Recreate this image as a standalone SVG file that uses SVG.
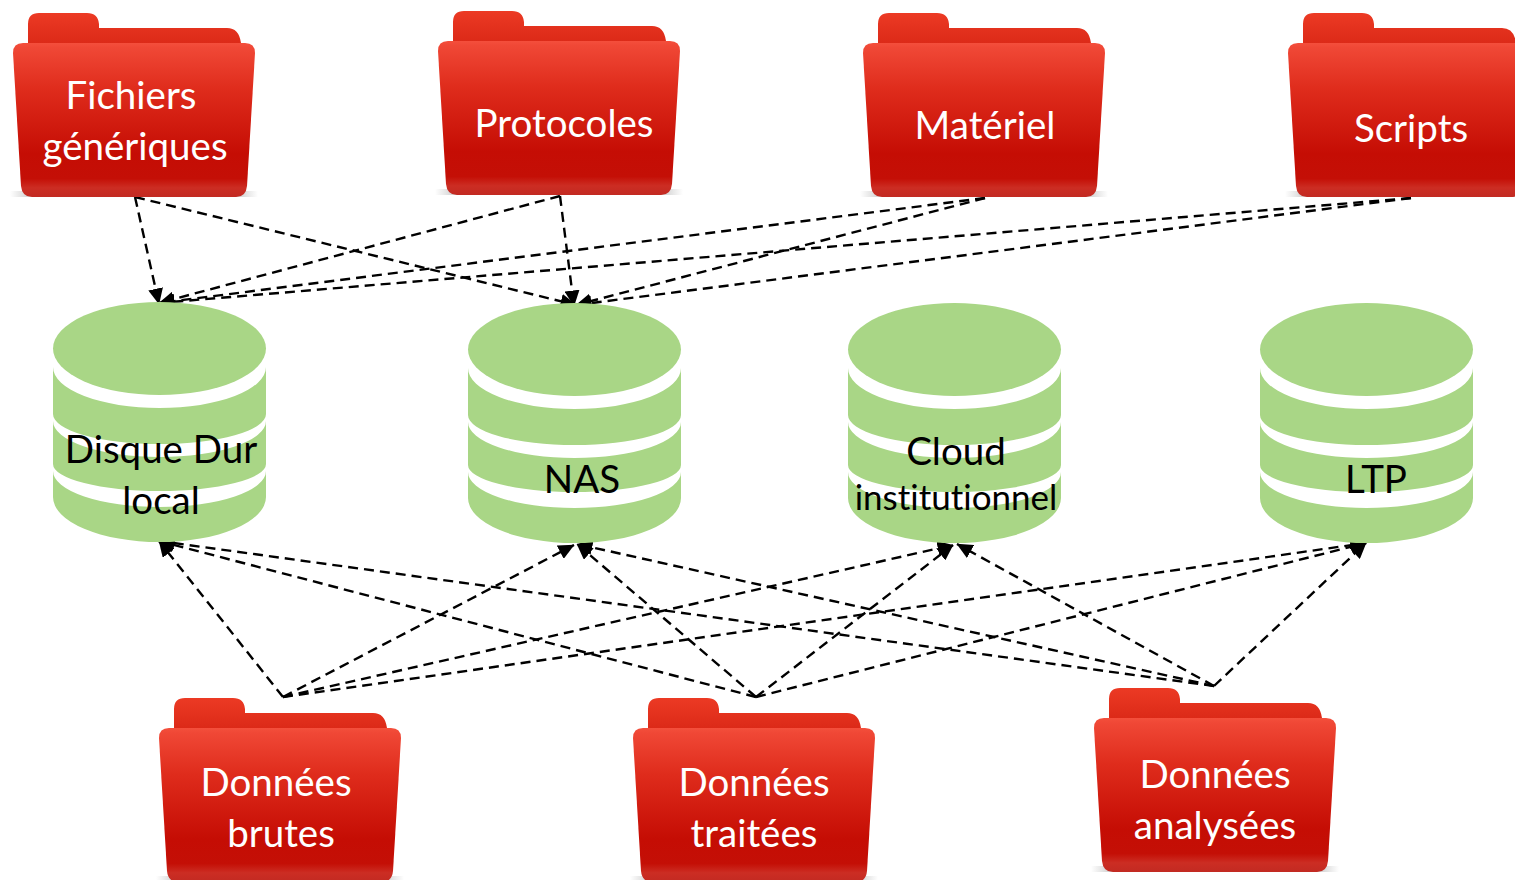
<svg xmlns="http://www.w3.org/2000/svg" width="1515" height="880" viewBox="0 0 1515 880">
<style>
text{font-family:Lato,"Liberation Sans",sans-serif;font-size:38.500px;text-anchor:middle;font-variant-ligatures:none}
.w{fill:#fff}
.k{fill:#000}
.c{fill:none;stroke:#000;stroke-width:2.4;stroke-dasharray:10 6}
.g{fill:#a9d686}
</style>
<defs>
<linearGradient id="fg" x1="0" y1="0" x2="0" y2="1">
<stop offset="0" stop-color="#f44f3c"/><stop offset=".03" stop-color="#f04836"/><stop offset=".3" stop-color="#df2c1c"/><stop offset=".72" stop-color="#c50d04"/><stop offset=".88" stop-color="#c40f06"/><stop offset=".94" stop-color="#cc2d23"/><stop offset="1" stop-color="#c22a22"/>
</linearGradient>
<linearGradient id="tg" x1="0" y1="0" x2="0" y2="1">
<stop offset="0" stop-color="#ec3a24"/><stop offset="1" stop-color="#dc2a18"/>
</linearGradient>
<linearGradient id="sh" x1="0" y1="0" x2="1" y2="0">
<stop offset="0" stop-color="#888" stop-opacity="0"/><stop offset=".1" stop-color="#888" stop-opacity=".5"/><stop offset=".9" stop-color="#888" stop-opacity=".5"/><stop offset="1" stop-color="#888" stop-opacity="0"/>
</linearGradient>
<marker id="a" markerWidth="16" markerHeight="15" refX="15.500" refY="7.500" orient="auto" markerUnits="userSpaceOnUse"><path d="M0 0L16 7.500L0 15Z" fill="#000"/></marker>
<g id="folder">
<rect x="-3" y="191" width="248" height="6" fill="url(#sh)"/>
<path d="M15 43V24Q15 13 26 13H74Q85 13 86 24V28H214Q226 28 228 43Z" fill="url(#tg)"/>
<path d="M0 53Q0 43 10 43H232Q242 43 242 53L234 186Q233 197 223 197H19Q9 197 8 186Z" fill="url(#fg)"/>
</g>
<g id="cyl">
<path class="g" d="M0 65A106.500 41 0 0 0 213 65V112A106.500 30 0 0 1 0 112Z"/>
<path class="g" d="M0 119A106.500 36 0 0 0 213 119V162A106.500 27 0 0 1 0 162Z"/>
<path class="g" d="M0 169A106.500 36 0 0 0 213 169V195A106.500 45 0 0 1 0 195Z"/>
<ellipse class="g" cx="106.500" cy="46.500" rx="106.500" ry="46.500"/>
</g>
</defs>
<g id="connectors">
<path class="c" marker-end="url(#a)" d="M135 197L159 304"/>
<path class="c" marker-end="url(#a)" d="M135 197L576 305"/>
<path class="c" marker-end="url(#a)" d="M560 196L159 303"/>
<path class="c" marker-end="url(#a)" d="M560 196L574 306"/>
<path class="c" marker-end="url(#a)" d="M985 198L159 303"/>
<path class="c" marker-end="url(#a)" d="M985 198L576 305"/>
<path class="c" marker-end="url(#a)" d="M1411 198L159 303"/>
<path class="c" marker-end="url(#a)" d="M1411 198L576 305"/>
<path class="c" marker-end="url(#a)" d="M283 697L159 541"/>
<path class="c" marker-end="url(#a)" d="M283 697L574 545"/>
<path class="c" marker-end="url(#a)" d="M283 697L953 545"/>
<path class="c" marker-end="url(#a)" d="M283 697L1366 543"/>
<path class="c" marker-end="url(#a)" d="M756 697L159 541"/>
<path class="c" marker-end="url(#a)" d="M756 697L577 544"/>
<path class="c" marker-end="url(#a)" d="M756 697L953 545"/>
<path class="c" marker-end="url(#a)" d="M756 697L1366 543"/>
<path class="c" marker-end="url(#a)" d="M1214 686L159 541"/>
<path class="c" marker-end="url(#a)" d="M1214 686L577 544"/>
<path class="c" marker-end="url(#a)" d="M1214 686L957 544"/>
<path class="c" marker-end="url(#a)" d="M1214 686L1366 543"/>
</g>
<g id="fichiers"><use href="#folder" x="13" y="0"/><text class="w" x="131" y="109">Fichiers</text><text class="w" x="135" y="160">génériques</text></g>
<g id="protocoles"><use href="#folder" x="438" y="-2"/><text class="w" x="564" y="137">Protocoles</text></g>
<g id="materiel"><use href="#folder" x="863" y="0"/><text class="w" x="985" y="139">Matériel</text></g>
<g id="scripts"><use href="#folder" x="1288" y="0"/><text class="w" x="1411" y="142">Scripts</text></g>
<g id="disque"><use href="#cyl" x="53" y="302"/><text class="k" x="161" y="463">Disque Dur</text><text class="k" x="161" y="514">local</text></g>
<g id="nas"><use href="#cyl" x="468" y="303"/><text class="k" x="582" y="493">NAS</text></g>
<g id="cloud"><use href="#cyl" x="848" y="303"/><text class="k" x="956" y="465">Cloud</text><text class="k" x="956" y="510" style="font-size:35px">institutionnel</text></g>
<g id="ltp"><use href="#cyl" x="1260" y="303"/><text class="k" x="1376" y="493">LTP</text></g>
<g id="brutes"><use href="#folder" x="159" y="685"/><text class="w" x="276" y="796">Données</text><text class="w" x="281" y="847">brutes</text></g>
<g id="traitees"><use href="#folder" x="633" y="685"/><text class="w" x="754" y="796">Données</text><text class="w" x="754" y="847">traitées</text></g>
<g id="analysees"><use href="#folder" x="1094" y="675"/><text class="w" x="1215" y="788">Données</text><text class="w" x="1215" y="839">analysées</text></g>
</svg>
